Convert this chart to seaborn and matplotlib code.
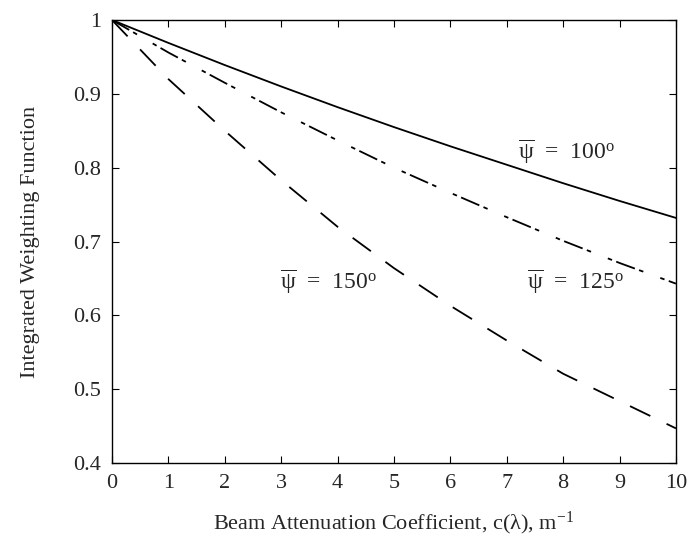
import numpy as np
import pandas as pd
import matplotlib
matplotlib.use('Agg')
import matplotlib.pyplot as plt
import seaborn as sns

# values
c_vals = [0, 1, 2, 3, 4, 5, 6, 7, 8, 9, 10]
w_100 = [1.000, 0.969, 0.939, 0.910, 0.882, 0.855, 0.829, 0.804, 0.779, 0.755, 0.732]
w_125 = [1.000, 0.956, 0.915, 0.875, 0.837, 0.800, 0.766, 0.733, 0.701, 0.671, 0.643]
w_150 = [1.000, 0.920, 0.850, 0.783, 0.720, 0.664, 0.613, 0.566, 0.521, 0.484, 0.447]
angles = ['100', '125', '150']

df = pd.DataFrame({
    'c': c_vals * 3,
    'w': w_100 + w_125 + w_150,
    'angle': [a for a in angles for _ in c_vals],
})

sns.set_style('ticks')
plt.rcParams['font.family'] = ['Liberation Serif', 'DejaVu Serif']
plt.rcParams['mathtext.fontset'] = 'custom'
plt.rcParams['mathtext.rm'] = 'Liberation Serif'
plt.rcParams['mathtext.it'] = 'Liberation Serif'
plt.rcParams['mathtext.bf'] = 'Liberation Serif:bold'

fig = plt.figure(figsize=(6.94, 5.41), dpi=100)
ax = fig.add_axes([0.1614, 0.144, 0.8126, 0.819])

sns.lineplot(data=df, x='c', y='w', style='angle', hue='angle',
             palette=['black'] * 3,
             dashes={'100': '', '125': (11, 2.5, 2.5, 10, 2.5, 2.5), '150': (12.5, 10)},
             linewidth=1.3, legend=False, ax=ax)

ax.set_xlim(0, 10)
ax.set_ylim(0.4, 1.0)
ax.set_xticks(range(0, 11))
ax.set_yticks([0.4, 0.5, 0.6, 0.7, 0.8, 0.9, 1.0])
ax.set_yticklabels(['0.4', '0.5', '0.6', '0.7', '0.8', '0.9', '1'])
ax.tick_params(direction='in', length=5, width=0.8, top=True, right=True,
               labelsize=16, pad=8, color='black')
for s in ax.spines.values():
    s.set_linewidth(1.0)
    s.set_color('black')

ax.set_xlabel(r'Beam Attenuation Coefficient, c($\lambda$), m$^{-1}$', fontsize=16, labelpad=12)
ax.set_ylabel('Integrated Weighting Function', fontsize=16, labelpad=24)

lab_kw = dict(fontsize=17, va='center', ha='left')
ax.text(7.2, 0.821, r'$\overline{\psi}$  =  100$^{\rm o}$', **lab_kw)
ax.text(2.98, 0.645, r'$\overline{\psi}$  =  150$^{\rm o}$', **lab_kw)
ax.text(7.36, 0.645, r'$\overline{\psi}$  =  125$^{\rm o}$', **lab_kw)

fig.savefig('out.png', dpi=100)
